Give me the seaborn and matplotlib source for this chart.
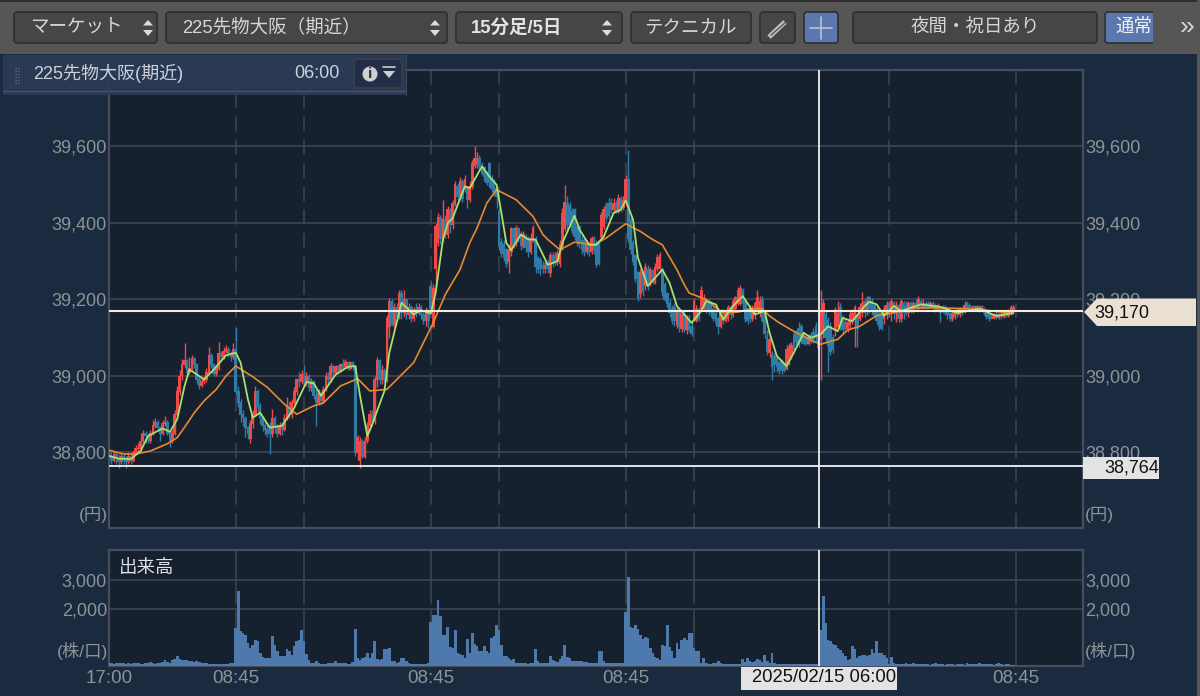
import matplotlib
matplotlib.use('Agg')
import matplotlib.pyplot as plt
from matplotlib.patches import FancyBboxPatch, Polygon, Rectangle, Circle
import seaborn as sns

# 15 minute bars
opens = [
    38805, 38790, 38780, 38795, 38785, 38775, 38790, 38780, 38775, 38790,
    38780, 38800, 38810, 38810, 38830, 38850, 38845, 38830, 38850, 38870,
    38880, 38865, 38850, 38875, 38880, 38850, 38830, 38850, 38900, 38960,
    39000, 39030, 39040, 39010, 39020, 39045, 39030, 38990, 38975, 38985,
    38990, 39010, 39055, 39030, 39005, 39020, 39060, 39050, 39065, 39070,
    39055, 39050,
    39070, 38960, 38930, 38900, 38890, 38865, 38835, 38875, 38900, 38960,
    38920, 38890, 38870, 38860, 38870, 38850, 38890, 38865, 38850, 38870,
    38860, 38890, 38920, 38900, 38930, 38960, 38990, 38985, 39005, 38985,
    39000, 38970, 38985, 38950, 38930, 38955, 38935, 38965, 39000, 38990,
    39025, 39010, 39025, 39015, 39030, 39025, 39035, 39020, 39035, 39025,
    38800, 38780, 38830, 38790, 38830, 38870, 38900, 38880, 38990, 39040,
    38990, 39015, 38990, 39130, 39195, 39135, 39180, 39155, 39215, 39165,
    39200, 39160, 39180, 39150, 39175, 39165, 39180, 39160, 39145, 39170,
    39235, 39130, 39280, 39350, 39415, 39360, 39410, 39370, 39435, 39395,
    39450, 39495, 39470, 39510, 39490, 39490, 39460, 39495, 39550, 39555,
    39570, 39550, 39545, 39530, 39555, 39515, 39510, 39490, 39430, 39350,
    39345, 39330, 39300, 39325, 39385, 39345, 39385, 39370, 39340, 39365,
    39360, 39325, 39355, 39355, 39310, 39305, 39290, 39280, 39295, 39270,
    39315, 39315, 39300, 39295, 39340, 39385, 39450, 39445, 39430, 39435,
    39390, 39390, 39355, 39355, 39325, 39345, 39325, 39360, 39345, 39350,
    39365, 39390, 39445, 39450, 39455, 39435, 39450, 39430, 39465, 39440,
    39455, 39515, 39410, 39350, 39315, 39270, 39215, 39270, 39235, 39280,
    39240, 39275, 39245, 39280, 39280, 39280, 39240, 39215, 39190, 39175,
    39180, 39135, 39170, 39125, 39160, 39120, 39150, 39130, 39150, 39145,
    39175, 39175, 39175, 39200, 39195, 39185, 39175, 39165, 39150, 39130,
    39170, 39145, 39150, 39180, 39160, 39175, 39190, 39190, 39225, 39195,
    39170, 39180, 39150, 39160, 39175, 39165, 39200, 39160, 39100, 39060,
    39060, 39050, 39045, 39035, 39040, 39030, 39020, 39040, 39050, 39110,
    39110, 39125, 39130, 39100, 39100, 39085, 39105, 39115, 39130, 39110,
    39095, 39110, 39160, 39145, 39130, 39100, 39120, 39130, 39180, 39150,
    39140, 39125, 39135, 39145, 39150, 39155, 39150, 39165, 39195, 39170,
    39205, 39195, 39185, 39175, 39165, 39155, 39150, 39160, 39190, 39165,
    39190, 39165, 39185, 39150, 39190, 39185, 39165, 39190, 39170, 39190,
    39175, 39195, 39180, 39190, 39190, 39180, 39190, 39185, 39172, 39175,
    39180, 39175, 39175, 39165, 39150, 39155, 39170, 39160, 39175, 39170,
    39190, 39185, 39172, 39182, 39172, 39182, 39172, 39178, 39170, 39165,
    39160, 39150, 39160, 39152, 39162, 39155, 39165, 39158, 39165, 39170,
]
highs = [
    38810, 38800, 38805, 38800, 38795, 38800, 38795, 38790, 38800, 38795,
    38805, 38820, 38825, 38850, 38860, 38855, 38850, 38860, 38885, 38890,
    38885, 38870, 38885, 38895, 38885, 38855, 38860, 38910, 38975, 39015,
    39045, 39085, 39045, 39050, 39055, 39050, 39035, 39000, 39000, 39000,
    39020, 39075, 39060, 39035, 39030, 39090, 39065, 39075, 39080, 39075,
    39065, 39085,
    39125, 38975, 38940, 38910, 38895, 38870, 38885, 38910, 38975, 38965,
    38930, 38895, 38880, 38875, 38880, 38915, 38895, 38875, 38880, 38880,
    38900, 38945, 38935, 38940, 38970, 38995, 39010, 39015, 39030, 39010,
    39005, 38995, 38990, 38965, 38965, 38960, 38975, 39010, 39010, 39035,
    39030, 39030, 39030, 39035, 39045, 39045, 39040, 39040, 39040, 39030,
    38845, 38840, 38835, 38840, 38880, 38910, 38910, 39000, 39050, 39045,
    39030, 39020, 39160, 39205, 39200, 39190, 39190, 39225, 39225, 39225,
    39205, 39190, 39185, 39180, 39190, 39190, 39185, 39170, 39180, 39175,
    39245, 39240, 39400, 39425, 39420, 39460, 39420, 39445, 39440, 39460,
    39510, 39505, 39520, 39515, 39525, 39495, 39510, 39565, 39600, 39585,
    39578, 39560, 39550, 39535, 39560, 39525, 39515, 39495, 39440, 39360,
    39355, 39335, 39345, 39390, 39390, 39395, 39390, 39380, 39380, 39370,
    39365, 39375, 39395, 39365, 39315, 39310, 39300, 39300, 39305, 39325,
    39325, 39325, 39330, 39355, 39440, 39500, 39470, 39455, 39440, 39440,
    39400, 39395, 39365, 39360, 39355, 39350, 39365, 39365, 39355, 39355,
    39430, 39445, 39455, 39465, 39465, 39465, 39460, 39475, 39470, 39470,
    39525, 39590, 39420, 39355, 39320, 39275, 39280, 39275, 39295, 39290,
    39285, 39280, 39295, 39320, 39325, 39285, 39245, 39220, 39200, 39185,
    39190, 39180, 39175, 39165, 39170, 39160, 39160, 39145, 39205, 39185,
    39180, 39235, 39215, 39205, 39200, 39195, 39180, 39170, 39155, 39175,
    39175, 39175, 39185, 39185, 39200, 39210, 39232, 39238, 39230, 39200,
    39175, 39185, 39185, 39195, 39225, 39210, 39210, 39165, 39120, 39105,
    39065, 39060, 39050, 39040, 39045, 39035, 39080, 39085, 39090, 39120,
    39120, 39140, 39135, 39110, 39105, 39110, 39115, 39125, 39140, 39120,
    39225, 39200, 39170, 39155, 39140, 39110, 39180, 39195, 39190, 39160,
    39150, 39150, 39170, 39175, 39185, 39165, 39190, 39220, 39205, 39210,
    39210, 39205, 39190, 39180, 39170, 39160, 39185, 39195, 39195, 39200,
    39195, 39195, 39190, 39200, 39195, 39195, 39195, 39195, 39195, 39200,
    39210, 39200, 39200, 39195, 39195, 39195, 39195, 39190, 39190, 39180,
    39185, 39185, 39180, 39170, 39170, 39175, 39175, 39180, 39180, 39195,
    39195, 39190, 39185, 39185, 39185, 39185, 39185, 39180, 39175, 39170,
    39165, 39165, 39175, 39165, 39170, 39170, 39172, 39175, 39185, 39185,
]
lows = [
    38775, 38770, 38775, 38770, 38760, 38770, 38770, 38760, 38770, 38770,
    38775, 38795, 38800, 38805, 38825, 38825, 38825, 38825, 38845, 38865,
    38860, 38830, 38845, 38870, 38845, 38815, 38825, 38845, 38895, 38950,
    38990, 39020, 39000, 39005, 39015, 39020, 38980, 38965, 38970, 38980,
    38985, 39005, 39020, 39000, 39000, 39015, 39040, 39045, 39060, 39050,
    39040, 39045,
    38950, 38920, 38880, 38870, 38840, 38835, 38825, 38865, 38895, 38905,
    38875, 38855, 38845, 38840, 38795, 38840, 38850, 38840, 38845, 38845,
    38855, 38885, 38890, 38890, 38925, 38950, 38970, 38980, 38975, 38975,
    38960, 38960, 38940, 38870, 38925, 38925, 38930, 38960, 38980, 38985,
    39000, 39005, 39005, 39010, 39015, 39020, 39015, 39015, 39015, 38790,
    38780, 38760, 38785, 38785, 38825, 38860, 38870, 38875, 38970, 38980,
    38980, 38985, 38985, 39100, 39130, 39125, 39145, 39150, 39150, 39155,
    39150, 39150, 39140, 39145, 39155, 39160, 39150, 39135, 39130, 39125,
    39165, 39125, 39230, 39340, 39345, 39350, 39360, 39360, 39375, 39385,
    39445, 39460, 39460, 39455, 39480, 39440, 39455, 39490, 39545, 39545,
    39540, 39525, 39510, 39500, 39495, 39480, 39470, 39440, 39330, 39310,
    39300, 39285, 39270, 39315, 39335, 39340, 39350, 39330, 39335, 39325,
    39310, 39320, 39350, 39270, 39270, 39265, 39270, 39270, 39270, 39260,
    39285, 39290, 39290, 39285, 39330, 39380, 39385, 39390, 39370, 39355,
    39340, 39335, 39320, 39315, 39320, 39315, 39320, 39320, 39285, 39290,
    39360, 39385, 39405, 39410, 39425, 39430, 39425, 39425, 39430, 39435,
    39445, 39350, 39320, 39290, 39245, 39195, 39205, 39210, 39225, 39225,
    39235, 39240, 39240, 39275, 39270, 39210, 39195, 39180, 39155, 39135,
    39130, 39125, 39115, 39115, 39115, 39110, 39115, 39105, 39145, 39140,
    39145, 39170, 39170, 39165, 39160, 39155, 39145, 39130, 39110, 39125,
    39135, 39140, 39145, 39150, 39155, 39170, 39185, 39185, 39175, 39140,
    39135, 39140, 39145, 39150, 39170, 39155, 39140, 39100, 39055, 39050,
    38990, 39010, 39010, 39005, 39005, 39010, 39015, 39030, 39045, 39060,
    39080, 39075, 39085, 39080, 39080, 39080, 39085, 39085, 39090, 39070,
    38990, 39100, 39090, 39010, 39055, 39060, 39105, 39125, 39120, 39110,
    39115, 39115, 39125, 39135, 39075, 39075, 39145, 39155, 39155, 39160,
    39165, 39160, 39155, 39135, 39120, 39120, 39135, 39150, 39155, 39145,
    39150, 39140, 39140, 39140, 39150, 39160, 39155, 39165, 39165, 39170,
    39170, 39175, 39175, 39175, 39175, 39178, 39175, 39168, 39170, 39140,
    39165, 39160, 39150, 39145, 39145, 39150, 39155, 39155, 39160, 39165,
    39170, 39170, 39170, 39170, 39170, 39168, 39170, 39160, 39150, 39145,
    39148, 39148, 39150, 39150, 39150, 39152, 39155, 39155, 39160, 39165,
]
closes = [
    38790, 38780, 38795, 38785, 38775, 38790, 38780, 38775, 38790, 38780,
    38800, 38810, 38810, 38830, 38850, 38845, 38830, 38850, 38870, 38880,
    38865, 38850, 38875, 38880, 38850, 38830, 38850, 38900, 38960, 39000,
    39030, 39040, 39010, 39020, 39045, 39030, 38990, 38975, 38985, 38990,
    39010, 39055, 39030, 39005, 39020, 39060, 39050, 39065, 39070, 39055,
    39050, 39070,
    38960, 38930, 38900, 38890, 38865, 38850, 38875, 38900, 38960, 38920,
    38890, 38870, 38860, 38850, 38850, 38890, 38865, 38850, 38870, 38860,
    38890, 38920, 38900, 38930, 38960, 38990, 38985, 39005, 38985, 39000,
    38970, 38985, 38950, 38930, 38955, 38935, 38965, 39000, 38990, 39025,
    39010, 39025, 39015, 39030, 39025, 39035, 39020, 39035, 39025, 38800,
    38840, 38830, 38790, 38830, 38870, 38900, 38880, 38990, 39040, 38990,
    39015, 38990, 39150, 39195, 39135, 39180, 39155, 39215, 39165, 39200,
    39160, 39180, 39150, 39175, 39165, 39180, 39160, 39145, 39170, 39145,
    39175, 39230, 39390, 39415, 39360, 39410, 39370, 39435, 39395, 39450,
    39500, 39470, 39510, 39465, 39515, 39460, 39495, 39555, 39570, 39570,
    39550, 39530, 39520, 39505, 39505, 39490, 39480, 39470, 39340, 39320,
    39310, 39295, 39330, 39385, 39345, 39385, 39360, 39340, 39370, 39335,
    39325, 39360, 39385, 39285, 39280, 39280, 39280, 39290, 39280, 39315,
    39295, 39300, 39320, 39345, 39425, 39455, 39395, 39395, 39380, 39365,
    39350, 39345, 39330, 39325, 39345, 39325, 39360, 39330, 39290, 39295,
    39420, 39435, 39415, 39420, 39435, 39450, 39430, 39465, 39440, 39460,
    39515, 39360, 39330, 39300, 39255, 39205, 39270, 39220, 39285, 39235,
    39280, 39245, 39285, 39310, 39315, 39220, 39200, 39190, 39165, 39145,
    39145, 39170, 39130, 39160, 39120, 39150, 39120, 39110, 39195, 39175,
    39150, 39225, 39200, 39175, 39170, 39165, 39150, 39140, 39130, 39170,
    39145, 39165, 39180, 39160, 39195, 39205, 39225, 39230, 39190, 39150,
    39145, 39150, 39175, 39190, 39205, 39195, 39145, 39110, 39065, 39095,
    39025, 39030, 39025, 39015, 39015, 39015, 39070, 39075, 39080, 39070,
    39090, 39085, 39090, 39085, 39085, 39100, 39090, 39095, 39100, 39075,
    39170, 39190, 39100, 39080, 39065, 39070, 39170, 39165, 39125, 39120,
    39125, 39140, 39160, 39165, 39180, 39125, 39180, 39190, 39165, 39195,
    39175, 39170, 39160, 39145, 39130, 39125, 39175, 39185, 39165, 39195,
    39165, 39185, 39150, 39195, 39165, 39165, 39190, 39170, 39190, 39175,
    39200, 39180, 39190, 39180, 39180, 39190, 39178, 39172, 39185, 39165,
    39170, 39165, 39160, 39150, 39165, 39170, 39160, 39175, 39165, 39185,
    39175, 39172, 39180, 39172, 39182, 39172, 39180, 39165, 39155, 39150,
    39150, 39160, 39152, 39160, 39155, 39165, 39158, 39170, 39180, 39180,
]
volumes = [
    160, 150, 140, 150, 150, 170, 150, 140, 150, 140,
    160, 150, 150, 140, 140, 150, 160, 190, 170, 140,
    150, 170, 200, 270, 190, 180, 270, 300, 410, 300,
    260, 280, 270, 240, 220, 200, 240, 190, 170, 150,
    150, 140, 140, 130, 130, 140, 130, 130, 130, 140, 170, 150,
    1350, 2635, 1240, 1180, 1125, 840, 660, 780, 950, 930,
    500, 360, 330, 330, 330, 1090, 780, 560, 390, 390,
    390, 640, 560, 450, 730, 900, 950, 1300, 930, 480,
    270, 180, 180, 220, 170, 140, 130, 140, 150, 170,
    170, 230, 170, 150, 170, 180, 130, 140, 190, 1320,
    330, 270, 330, 360, 500, 330, 500, 930, 300, 270,
    300, 640, 650, 660, 220, 220, 180, 210, 330, 330,
    220, 180, 140, 130, 130, 120, 130, 140, 130, 150,
    1580, 1800, 1800, 2320, 1770, 1125, 1130, 1385, 700, 690,
    1300, 500, 480, 450, 330, 980, 500, 1180, 810, 750,
    560, 560, 730, 560, 500, 1010, 1090, 1465, 1295, 780,
    390, 410, 330, 270, 300, 180, 170, 180, 160, 150,
    140, 150, 150, 650, 220, 160, 150, 160, 170, 410,
    270, 230, 200, 300, 410, 780, 360, 330, 250, 250,
    240, 230, 220, 200, 190, 170, 160, 150, 160, 560,
    560, 220, 160, 170, 160, 180, 170, 150, 160, 160,
    1920, 3090, 1385, 1350, 1465, 1320, 1125, 980, 1045, 1010,
    670, 500, 360, 330, 270, 780, 750, 1455, 700, 560,
    330, 840, 640, 950, 1010, 950, 1180, 1180, 670, 580,
    580, 160, 330, 160, 140, 130, 150, 170, 220, 170,
    140, 130, 140, 130, 130, 120, 130, 140, 295, 200,
    330, 220, 200, 250, 295, 270, 200, 440, 220, 180,
    520, 160, 130, 130, 120, 130, 120, 140, 130, 130,
    120, 130, 140, 120, 130, 120, 140, 130, 120, 130,
    1295, 2450, 1520, 950, 900, 810, 780, 670, 610, 500,
    410, 270, 295, 730, 640, 330, 390, 440, 440, 410,
    440, 640, 500, 930, 500, 520, 440, 330, 130, 360,
    160, 130, 140, 120, 130, 170, 120, 130, 150, 120,
    120, 130, 140, 130, 120, 110, 130, 180, 140, 120,
    130, 110, 120, 130, 120, 110, 130, 120, 120, 110,
    150, 120, 130, 120, 130, 170, 130, 120, 130, 120,
    120, 110, 130, 150, 120, 110, 130, 120, 100, 100,
]

# moving averages, read at the bends of each line
fast_bars = [0, 4, 9, 13, 16, 22, 25, 28, 31, 33, 36, 39, 43, 48, 52, 54, 57, 59, 62, 66,
             71, 76, 81, 84, 87, 93, 98, 101, 103, 106, 108, 113, 115, 120, 125, 128, 132,
             134, 137, 139, 141, 146, 148, 153, 156, 159, 161, 163, 165, 169, 172, 175, 180,
             184, 186, 191, 193, 197, 200, 203, 207, 210, 212, 215, 217, 221, 227, 230, 233,
             239, 243, 245, 249, 252, 256, 260, 265, 269, 271, 274, 278, 282, 285, 288, 292,
             295, 299, 301, 305, 310, 312, 315, 318, 322, 325, 333, 341, 348, 357, 364, 371]
fast_ma = [38791, 38784, 38783, 38804, 38843, 38863, 38854, 38887, 38974, 39017, 39004, 38991,
           39017, 39054, 39061, 39035, 38939, 38891, 38904, 38865, 38870, 38917, 38984, 38981,
           38948, 39004, 39024, 39026, 38948, 38843, 38874, 38961, 39061, 39191, 39161, 39172,
           39163, 39217, 39357, 39400, 39413, 39496, 39491, 39548, 39522, 39500, 39426, 39348,
           39329, 39370, 39357, 39357, 39291, 39300, 39348, 39419, 39383, 39343, 39343, 39365,
           39426, 39435, 39459, 39409, 39309, 39235, 39278, 39243, 39183, 39139, 39170, 39196,
           39187, 39148, 39183, 39209, 39161, 39170, 39113, 39052, 39026, 39074, 39113, 39100,
           39109, 39130, 39117, 39152, 39143, 39183, 39194, 39187, 39157, 39183, 39170, 39187,
           39181, 39165, 39176, 39157, 39165]
slow_bars = [0, 6, 11, 17, 24, 28, 31, 35, 39, 44, 48, 52, 59, 65, 72, 77, 84, 88, 95, 102, 107,
             114, 125, 133, 138, 140, 144, 148, 151, 155, 159, 163, 167, 174, 178, 180, 185,
             191, 199, 204, 212, 218, 223, 227, 233, 236, 238, 245, 251, 258, 263, 268, 271,
             275, 282, 289, 292, 299, 303, 308, 315, 322, 330, 341, 352, 360, 371]
slow_ma = [38806, 38796, 38796, 38804, 38823, 38839, 38866, 38904, 38935, 38965, 39000, 39026,
           38998, 38970, 38926, 38900, 38922, 38930, 38974, 38993, 38961, 38965, 39035, 39139,
           39213, 39235, 39278, 39348, 39387, 39452, 39487, 39474, 39461, 39417, 39370, 39357,
           39330, 39350, 39343, 39361, 39398, 39378, 39357, 39343, 39278, 39239, 39217, 39200,
           39167, 39167, 39176, 39176, 39157, 39139, 39113, 39091, 39083, 39096, 39120, 39130,
           39158, 39165, 39178, 39178, 39176, 39172, 39163]

price_ticks = [38800, 39000, 39200, 39400, 39600]
price_tick_labels = ['38,800', '39,000', '39,200', '39,400', '39,600']
volume_ticks = [2000, 3000]
volume_tick_labels = ['2,000', '3,000']
date_ticks = [0, 52, 132, 212, 372]
date_tick_labels = ['17:00', '08:45', '08:45', '08:45', '08:45']
session_lines = [52, 80, 132, 160, 212, 240, 320, 372]
cursor_bar = 291.4
last_price = 39170
low_price = 38764

BG = '#1a2a3f'
PANEL = '#162130'
GRID = '#3c424f'
FRAME = '#474d5b'
LABEL = '#8e9397'
UP = '#f04a48'
DOWN = '#2f7da6'

sns.set_style('dark')
plt.rcParams['font.family'] = ['Liberation Sans', 'Noto Sans CJK JP', 'DejaVu Sans']

W, H = 1200, 696
fig = plt.figure(figsize=(W / 100, H / 100), dpi=100, facecolor=BG)
ax = fig.add_axes([109 / W, (H - 528) / H, 974 / W, 458 / H], facecolor=PANEL)
ax_vol = fig.add_axes([109 / W, (H - 665.5) / H, 974 / W, 115.5 / H], facecolor=PANEL)

# price panel
bars = list(range(len(closes)))
bar_colors = [UP if c >= o else DOWN for o, c in zip(opens, closes)]
ax.grid(False)
ax.set_yticks(price_ticks, price_tick_labels)
for p in price_ticks:
    ax.axhline(p, color=GRID, lw=1.3, zorder=1)
for b in session_lines:
    ax.axvline(b, color=GRID, lw=1.2, ls=(0, (9, 5)), zorder=1)
ax.vlines(bars, lows, highs, colors=bar_colors, lw=1.0, zorder=2)
ax.bar(bars, [abs(c - o) + 2 for o, c in zip(opens, closes)], bottom=[min(o, c) - 1 for o, c in zip(opens, closes)],
       width=1.1, color=bar_colors, lw=0, zorder=3)
sns.lineplot(x=slow_bars, y=slow_ma, color='#e8892e', lw=1.2, errorbar=None, ax=ax, zorder=4)
sns.lineplot(x=fast_bars, y=fast_ma, color='#a5e36a', lw=1.3, errorbar=None, ax=ax, zorder=5)
ax.axhline(last_price, color='#f3ecdf', lw=1.5, zorder=6)
ax.axhline(low_price, color='#f2f2f2', lw=1.3, zorder=6)
ax.axvline(cursor_bar, color='#f0f0f0', lw=1.3, zorder=7)
ax.set_xlim(0, 399.6)
ax.set_ylim(38602.6, 39800)
ax.set_xticks([])
ax.set_xlabel('')
ax.tick_params(axis='y', which='both', length=0, pad=1.5, labelsize=13, labelcolor=LABEL,
               left=False, right=False, labelleft=True, labelright=True)

# volume panel
ax_vol.grid(False)
ax_vol.set_yticks(volume_ticks, volume_tick_labels)
for v in volume_ticks:
    ax_vol.axhline(v, color=GRID, lw=1.3, zorder=1)
for b in session_lines:
    ax_vol.axvline(b, color=GRID, lw=1.2, ls=(0, (34, 3)), zorder=1)
sns.barplot(x=bars, y=volumes, native_scale=True, width=1.15, color='#4d79ad', saturation=1,
            linewidth=0, ax=ax_vol, zorder=3)
ax_vol.axvline(cursor_bar, color='#f0f0f0', lw=1.3, zorder=7)
ax_vol.set_xlim(0, 399.6)
ax_vol.set_ylim(80, 4020)
ax_vol.set_xlabel('')
ax_vol.set_ylabel('')
ax_vol.set_xticks(date_ticks, date_tick_labels)
ax_vol.tick_params(axis='x', length=0, pad=3, labelsize=13.5, labelcolor=LABEL)
ax_vol.tick_params(axis='y', which='both', length=0, pad=1.5, labelsize=13, labelcolor=LABEL,
                   left=False, right=False, labelleft=True, labelright=True)

for a in (ax, ax_vol):
    for s in a.spines.values():
        s.set_visible(True)
        s.set_color(FRAME)
        s.set_linewidth(1.6)

# everything around the plot is laid out in screen pixels
ui = fig.add_axes([0, 0, 1, 1], facecolor='none')
ui.set_xlim(0, W)
ui.set_ylim(H, 0)
ui.axis('off')
ui.grid(False)

ui.add_patch(Rectangle((0, 0), W, 54, color='#565656', lw=0))
ui.add_patch(Rectangle((0, 0), W, 1.5, color='#2e2e2e', lw=0))
ui.add_patch(Rectangle((1197, 0), 3, H, color='#565656', lw=0))


def button(x0, x1, text, text_x=None, color='#464646', ha='center', weight='normal', tc='#d6d6d6'):
    ui.add_patch(FancyBboxPatch((x0 + 3, 15), x1 - x0 - 6, 25, boxstyle='round,pad=3', fc=color,
                                ec='#2f2f2f', lw=1.2))
    if text:
        tx = (x0 + x1) / 2 if text_x is None else text_x
        ui.text(tx, 27.5, text, color=tc, fontsize=13.3, ha=ha, va='center', weight=weight)


def updown(x):
    ui.add_patch(Polygon([(x - 5, 25.5), (x + 5, 25.5), (x, 20)], color='#dcdcdc', lw=0))
    ui.add_patch(Polygon([(x - 5, 30), (x + 5, 30), (x, 36)], color='#dcdcdc', lw=0))


button(14, 157, 'マーケット', text_x=76)
updown(148)
button(166, 447, '225先物大阪（期近）', text_x=182, ha='left')
updown(435)
button(456, 622, '15分足/5日', text_x=471, ha='left', weight='bold', tc='#e4e4e4')
updown(607)
button(631, 751, 'テクニカル')
button(760, 795, '')
ui.plot([769, 785], [37, 22], color='#bdbdbd', lw=3.5, solid_capstyle='butt')
ui.plot([771, 786], [35, 22], color='#464646', lw=0.8)
button(804, 838, '', color='#5a78ad')
ui.plot([810, 832], [27.5, 27.5], color='#b9c2d0', lw=1.2)
ui.plot([821, 821], [17, 39], color='#b9c2d0', lw=1.2)
button(853, 1097, '夜間・祝日あり')
button(1105, 1165, '', color='#5a78ad')
ui.add_patch(Rectangle((1153, 10), 14, 36, color='#565656', lw=0))
ui.text(1115, 27.5, '通常', color='#f0f0f0', fontsize=13.3, ha='left', va='center')
ui.text(1187, 27.5, '»', color='#d6d6d6', fontsize=19, ha='center', va='center')

# floating header over the chart
ui.add_patch(Rectangle((3, 55), 403, 40, color='#2b3a56', alpha=0.95, lw=0))
ui.plot([3, 406], [90.5, 90.5], color='#48526a', lw=1)
ui.plot([406, 406], [55, 95], color='#3a4660', lw=0.8)
for gy in range(68, 84, 3):
    ui.plot([15, 19], [gy, gy], color='#5f6b80', lw=1, ls=(0, (1, 1)))
ui.text(33, 73.5, '225先物大阪(期近)', color='#cfd3d8', fontsize=13, ha='left', va='center')
ui.text(340, 73.5, '06:00', color='#cfd3d8', fontsize=13, ha='right', va='center')
ui.add_patch(FancyBboxPatch((357, 62), 42, 23, boxstyle='round,pad=3', fc='#222d47', ec='#3f3f44', lw=1.2))
ui.add_patch(Circle((370, 74), 7.5, color='#d0d0d0', lw=0))
ui.text(370, 74.5, 'i', color='#222d47', fontsize=11, weight='bold', ha='center', va='center')
ui.plot([383, 395], [67, 67], color='#d0d0d0', lw=1.2)
ui.add_patch(Polygon([(383, 71), (395, 71), (389, 78)], color='#d0d0d0', lw=0))

# unit labels
ui.text(108, 515, '(円)', color=LABEL, fontsize=12.5, ha='right', va='center')
ui.text(1085, 515, '(円)', color=LABEL, fontsize=12.5, ha='left', va='center')
ui.text(108, 651, '(株/口)', color=LABEL, fontsize=12.5, ha='right', va='center')
ui.text(1085, 651, '(株/口)', color=LABEL, fontsize=12.5, ha='left', va='center')
ui.text(119, 568, '出来高', color='#dfe2e6', fontsize=13.3, ha='left', va='center')

# price tags and cursor date
ui.add_patch(Polygon([(1084, 312), (1097, 298.5), (1196, 298.5), (1196, 326), (1097, 326)], color='#ebe1d3', lw=0))
ui.text(1094, 312.5, '39,170', color='#111111', fontsize=13, ha='left', va='center')
ui.add_patch(Rectangle((1083, 457), 76, 21.5, color='#e3e3e3', lw=0))
ui.text(1159, 468, '38,764', color='#111111', fontsize=13, ha='right', va='center')
ui.add_patch(Rectangle((741, 667), 156, 23, color='#e3e3e3', lw=0))
ui.text(896, 678, '2025/02/15 06:00', color='#111111', fontsize=13.3, ha='right', va='center')

fig.savefig('out.png', dpi=100, facecolor=BG)
